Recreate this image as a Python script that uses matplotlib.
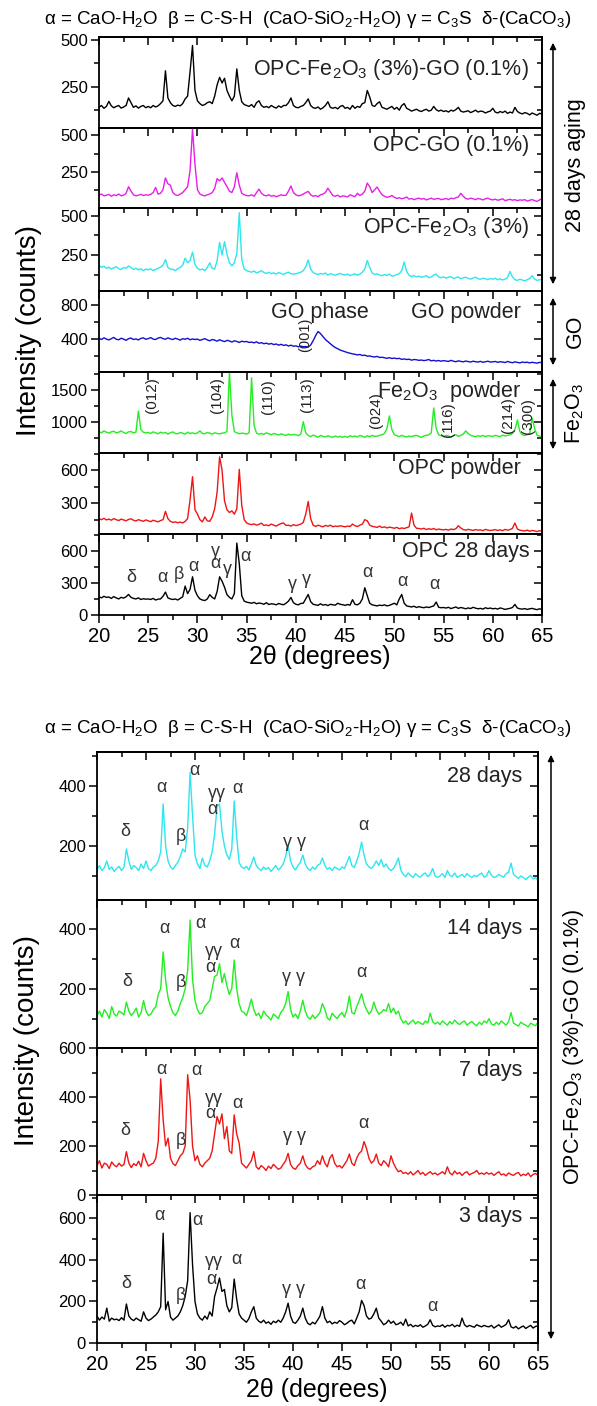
import numpy as np
import matplotlib
matplotlib.use("Agg")
import matplotlib.pyplot as plt
from matplotlib.patches import FancyArrowPatch
from matplotlib.ticker import MultipleLocator

plt.rcParams["font.family"] = ["Liberation Sans", "DejaVu Sans"]
plt.rcParams["mathtext.fontset"] = "custom"
plt.rcParams["mathtext.rm"] = "Liberation Sans"
plt.rcParams["mathtext.it"] = "Liberation Sans:italic"
plt.rcParams["axes.linewidth"] = 1.3

W, H = 597, 1406

# step scan, 20-65 deg 2theta, 0.25 deg per point
two_theta = np.arange(20.0, 65.001, 0.25)

# ---- upper figure: 28 day samples and raw powders ----
opc_fe_go_28d = [
    140, 150, 135, 145, 172, 148, 138, 145, 150, 136, 142, 150, 190, 165, 140, 148, 136, 145, 150, 138,
    145, 138, 150, 142, 148, 160, 175, 335, 190, 165, 150, 145, 152, 148, 160, 185, 200, 330, 470, 230,
    175, 160, 150, 155, 165, 170, 160, 200, 260, 300, 270, 295, 230, 200, 175, 200, 345, 230, 170, 155,
    150, 145, 155, 140, 165, 175, 150, 140, 145, 138, 150, 142, 136, 148, 140, 150, 150, 165, 190, 150,
    140, 138, 145, 150, 165, 185, 150, 138, 135, 142, 130, 138, 150, 170, 140, 135, 140, 132, 145, 150,
    135, 140, 130, 150, 135, 145, 140, 160, 165, 230, 195, 150, 145, 160, 170, 140, 135, 130, 138, 145,
    130, 140, 125, 150, 160, 135, 128, 120, 125, 130, 122, 118, 125, 130, 120, 125, 145, 128, 120, 125,
    118, 122, 115, 125, 120, 128, 140, 120, 115, 118, 122, 112, 118, 125, 115, 120, 118, 110, 116, 120,
    135, 115, 110, 118, 112, 120, 108, 115, 110, 140, 118, 110, 105, 112, 108, 100, 110, 104, 98, 108,
    105,
]
opc_go = [
    95, 100, 88, 92, 98, 85, 95, 90, 100, 88, 92, 105, 150, 120, 95, 88, 92, 98, 90, 95,
    92, 98, 110, 145, 100, 105, 130, 210, 170, 160, 110, 95, 90, 100, 110, 130, 150, 260, 545, 300,
    130, 100, 92, 88, 95, 100, 110, 140, 205, 190, 210, 180, 150, 120, 110, 150, 245, 160, 105, 95,
    90, 88, 95, 85, 110, 134, 105, 92, 88, 95, 85, 90, 82, 88, 95, 90, 92, 120, 155, 110,
    95, 88, 92, 100, 110, 118, 95, 85, 90, 82, 95, 100, 110, 140, 115, 90, 85, 92, 80, 88,
    85, 80, 95, 88, 82, 105, 90, 100, 120, 175, 150, 110, 130, 148, 120, 95, 85, 78, 82, 90,
    78, 70, 75, 68, 72, 80, 65, 70, 62, 68, 72, 65, 70, 60, 66, 72, 64, 68, 70, 62,
    65, 70, 62, 72, 68, 75, 80, 105, 85, 70, 65, 72, 68, 62, 70, 66, 60, 68, 72, 64,
    60, 65, 58, 62, 68, 55, 60, 64, 58, 62, 55, 60, 58, 62, 52, 58, 62, 55, 50, 60,
    70,
]
opc_fe = [
    185, 170, 178, 165, 172, 160, 168, 175, 162, 158, 170, 165, 180, 170, 158, 165, 155, 162, 150, 160,
    155, 162, 150, 158, 165, 172, 185, 220, 170, 160, 158, 150, 162, 170, 185, 230, 200, 215, 268, 190,
    165, 155, 160, 150, 170, 200, 165, 160, 215, 330, 250, 335, 255, 200, 180, 200, 260, 520, 220, 160,
    150, 145, 140, 148, 135, 142, 150, 138, 132, 140, 130, 136, 128, 138, 132, 125, 135, 140, 130, 128,
    130, 135, 140, 150, 175, 218, 160, 138, 130, 125, 132, 128, 135, 122, 130, 126, 120, 128, 132, 125,
    122, 128, 118, 125, 130, 120, 128, 140, 160, 215, 170, 135, 125, 130, 122, 118, 125, 120, 128, 115,
    118, 125, 130, 150, 205, 145, 120, 112, 118, 110, 115, 108, 112, 118, 105, 110, 122, 128, 110, 105,
    110, 102, 108, 112, 100, 105, 110, 98, 104, 108, 100, 96, 102, 108, 98, 95, 102, 98, 92, 100,
    95, 102, 92, 98, 90, 96, 105, 145, 110, 92, 88, 95, 90, 85, 92, 100, 118, 95, 88, 92,
    90,
]
go_powder = [
    410, 395, 415, 400, 390, 405, 420, 398, 392, 410, 400, 385, 405, 412, 395, 402, 390, 408, 415, 398,
    405, 418, 400, 395, 412, 420, 405, 398, 415, 402, 395, 410, 400, 388, 405, 398, 410, 392, 402, 395,
    400, 385, 395, 405, 390, 380, 395, 388, 375, 392, 380, 370, 385, 378, 365, 380, 372, 360, 375, 368,
    372, 360, 365, 355, 368, 350, 358, 345, 352, 340, 348, 335, 342, 328, 338, 325, 332, 318, 328, 315,
    320, 308, 318, 310, 312, 305, 330, 380, 440, 490, 465, 430, 395, 370, 345, 320, 300, 285, 270, 260,
    250, 240, 232, 225, 220, 212, 218, 205, 210, 198, 200, 192, 188, 195, 182, 185, 178, 172, 180, 170,
    175, 168, 172, 160, 165, 158, 162, 150, 158, 155, 148, 152, 145, 150, 158, 142, 148, 140, 146, 138,
    145, 140, 135, 148, 138, 132, 142, 136, 130, 140, 134, 128, 138, 132, 128, 136, 125, 132, 138, 128,
    130, 135, 125, 132, 128, 122, 135, 126, 120, 130, 124, 118, 128, 122, 126, 118, 125, 120, 115, 124,
    120,
]
fe2o3_powder = [
    850, 830, 860, 840, 825, 845, 855, 830, 840, 860, 835, 820, 845, 850, 830, 840, 1170, 880, 840, 830,
    835, 820, 845, 830, 815, 840, 825, 835, 810, 830, 845, 820, 815, 835, 825, 810, 840, 820, 830, 815,
    830, 860, 820, 815, 835, 825, 810, 830, 820, 815, 825, 830, 850, 1780, 1100, 850, 830, 815, 825, 820,
    810, 830, 1690, 950, 825, 810, 820, 805, 830, 815, 800, 820, 810, 795, 815, 800, 790, 810, 795, 805,
    800, 785, 810, 1005, 830, 790, 770, 795, 780, 760, 790, 775, 765, 785, 770, 760, 780, 765, 775, 760,
    775, 760, 785, 770, 780, 765, 790, 775, 760, 785, 770, 790, 775, 780, 790, 800, 820, 900, 1094, 880,
    800, 785, 770, 790, 775, 765, 780, 770, 785, 790, 775, 760, 780, 790, 800, 830, 1218, 900, 800, 785,
    770, 790, 780, 765, 785, 800, 775, 790, 810, 860, 820, 790, 780, 770, 785, 775, 790, 770, 785, 780,
    775, 790, 780, 770, 795, 780, 790, 800, 820, 880, 1031, 850, 800, 790, 800, 820, 1062, 900, 790, 780,
    775,
]
opc_powder = [
    158, 150, 162, 148, 155, 145, 160, 150, 142, 155, 148, 140, 152, 158, 145, 138, 150, 142, 135, 148,
    140, 132, 145, 138, 130, 142, 150, 225, 160, 135, 125, 130, 122, 128, 120, 135, 160, 330, 540, 240,
    200, 150, 130, 175, 140, 135, 175, 250, 400, 720, 600, 320, 240, 215, 230, 200, 250, 606, 280, 150,
    120, 110, 105, 112, 100, 108, 118, 98, 102, 95, 110, 100, 92, 105, 115, 120, 98, 100, 92, 105,
    96, 102, 110, 125, 200, 315, 160, 100, 88, 100, 92, 85, 98, 90, 100, 86, 92, 88, 95, 90,
    85, 92, 88, 110, 95, 88, 100, 110, 150, 140, 100, 90, 85, 80, 92, 78, 85, 75, 82, 78,
    72, 80, 68, 75, 70, 78, 85, 210, 100, 72, 70, 65, 72, 60, 68, 62, 70, 58, 65, 60,
    58, 62, 55, 65, 60, 68, 95, 75, 60, 55, 62, 58, 52, 60, 55, 58, 50, 62, 55, 52,
    55, 60, 52, 58, 50, 62, 55, 60, 72, 120, 65, 55, 50, 48, 55, 45, 52, 48, 42, 50,
    45,
]
opc_28d = [
    170, 160, 175, 165, 168, 155, 172, 160, 150, 165, 158, 170, 192, 165, 155, 150, 160, 145, 152, 148,
    150, 145, 155, 140, 148, 150, 175, 214, 160, 150, 145, 150, 140, 155, 170, 270, 200, 240, 357, 230,
    180, 150, 140, 135, 150, 190, 165, 150, 220, 357, 316, 260, 190, 165, 150, 200, 672, 480, 180, 130,
    120, 115, 110, 118, 105, 112, 108, 100, 115, 98, 105, 102, 95, 108, 100, 96, 110, 130, 164, 115,
    100, 95, 108, 110, 150, 192, 125, 100, 95, 90, 105, 92, 98, 88, 100, 95, 92, 110, 100, 96,
    90, 98, 92, 143, 100, 95, 110, 150, 255, 180, 110, 95, 90, 85, 92, 88, 95, 85, 90, 100,
    110, 95, 150, 192, 110, 85, 80, 75, 82, 70, 78, 72, 68, 75, 70, 78, 85, 121, 72, 68,
    70, 65, 72, 60, 68, 75, 62, 70, 65, 58, 66, 60, 72, 64, 58, 62, 55, 68, 60, 65,
    58, 62, 55, 66, 60, 52, 58, 62, 70, 99, 65, 58, 55, 60, 52, 58, 62, 55, 50, 58,
    52,
]

# ---- lower figure: OPC-Fe2O3(3%)-GO(0.1%) at different ages ----
age_28d = [
    120, 135, 118, 128, 150, 122, 130, 115, 125, 132, 118, 128, 190, 150, 122, 135, 128, 118, 140, 125,
    150, 125, 118, 130, 135, 150, 180, 340, 200, 150, 130, 122, 135, 145, 165, 190, 180, 260, 445, 300,
    170, 140, 125, 160, 135, 130, 150, 180, 240, 330, 340, 250, 200, 170, 155, 190, 350, 230, 145, 130,
    125, 132, 120, 140, 163, 135, 125, 118, 130, 122, 128, 115, 125, 135, 120, 128, 140, 165, 202, 150,
    130, 120, 135, 145, 170, 140, 125, 118, 130, 122, 135, 140, 160, 135, 122, 128, 118, 130, 125, 120,
    130, 125, 145, 165, 135, 128, 150, 175, 213, 170, 140, 130, 125, 135, 150, 135, 155, 130, 140, 125,
    118, 125, 140, 160, 120, 105, 98, 110, 102, 95, 108, 100, 96, 105, 110, 98, 105, 125, 100, 95,
    100, 108, 95, 118, 102, 98, 110, 95, 100, 105, 96, 108, 100, 95, 102, 98, 105, 110, 96, 100,
    118, 102, 95, 98, 105, 100, 96, 108, 112, 143, 105, 98, 92, 100, 95, 88, 96, 102, 90, 95,
    85,
]
age_14d = [
    110, 125, 105, 130, 118, 100, 140, 115, 108, 125, 120, 112, 155, 125, 110, 120, 135, 105, 120, 160,
    125, 110, 115, 130, 140, 180, 200, 322, 228, 170, 140, 120, 110, 125, 150, 170, 200, 260, 428, 230,
    160, 130, 115, 120, 140, 150, 160, 200, 240, 245, 283, 220, 250, 210, 180, 200, 295, 200, 150, 125,
    120, 110, 135, 165, 130, 110, 118, 100, 125, 112, 105, 95, 115, 108, 100, 120, 130, 150, 190, 130,
    105, 115, 100, 125, 161, 125, 105, 98, 112, 100, 110, 120, 150, 130, 102, 95, 118, 108, 100, 112,
    120, 105, 130, 175, 120, 115, 140, 160, 183, 150, 130, 115, 125, 155, 130, 115, 120, 130, 125, 150,
    120, 135, 115, 125, 100, 85, 92, 80, 88, 95, 82, 90, 85, 80, 92, 85, 118, 90, 82, 88,
    80, 92, 85, 78, 90, 82, 95, 86, 80, 88, 92, 78, 85, 90, 82, 76, 88, 80, 92, 85,
    100, 82, 78, 88, 80, 92, 85, 78, 90, 120, 85, 80, 75, 88, 82, 78, 72, 85, 80, 76,
    88,
]
age_7d = [
    120, 140, 110, 130, 125, 108, 135, 122, 115, 130, 118, 125, 177, 130, 112, 128, 120, 138, 115, 170,
    140, 118, 125, 130, 150, 218, 474, 307, 200, 232, 150, 128, 120, 140, 160, 170, 200, 491, 388, 200,
    140, 160, 125, 115, 130, 140, 150, 180, 250, 320, 290, 331, 230, 279, 180, 170, 327, 250, 212, 130,
    120, 110, 125, 140, 177, 115, 105, 120, 112, 100, 118, 108, 125, 115, 105, 110, 125, 140, 170, 125,
    110, 105, 120, 130, 160, 125, 110, 105, 115, 120, 140, 125, 160, 130, 115, 150, 165, 130, 115, 120,
    110, 125, 140, 167, 130, 120, 150, 170, 180, 218, 190, 150, 130, 140, 167, 130, 120, 140, 130, 115,
    160, 130, 110, 95, 100, 88, 92, 85, 95, 82, 90, 100, 85, 92, 80, 88, 95, 85, 90, 82,
    88, 95, 85, 115, 90, 82, 98, 86, 92, 80, 90, 95, 82, 88, 92, 100, 85, 90, 84, 92,
    85, 90, 80, 88, 95, 82, 86, 78, 90, 84, 80, 88, 92, 78, 85, 80, 90, 75, 84, 88,
    80,
]
age_3d = [
    130, 110, 125, 115, 168, 105, 120, 112, 115, 108, 122, 110, 188, 130, 115, 108, 120, 112, 105, 150,
    120, 108, 115, 125, 135, 150, 175, 529, 160, 200, 125, 110, 120, 130, 150, 180, 224, 300, 628, 377,
    200, 140, 120, 110, 130, 115, 150, 130, 224, 265, 313, 248, 258, 180, 150, 170, 308, 212, 140, 120,
    110, 100, 118, 150, 175, 120, 105, 98, 110, 95, 102, 90, 105, 98, 110, 100, 120, 150, 192, 130,
    100, 95, 110, 130, 168, 120, 95, 88, 100, 92, 110, 130, 175, 120, 98, 105, 92, 100, 95, 108,
    100, 88, 95, 105, 110, 92, 120, 150, 205, 180, 130, 115, 120, 140, 168, 120, 105, 88, 95, 110,
    95, 105, 88, 92, 100, 85, 115, 82, 90, 78, 85, 80, 88, 76, 82, 90, 112, 85, 78, 82,
    80, 88, 76, 85, 82, 90, 78, 86, 80, 120, 88, 78, 85, 80, 76, 88, 82, 78, 85, 80,
    78, 85, 72, 80, 88, 76, 82, 90, 112, 78, 72, 80, 68, 76, 82, 70, 78, 85, 72, 80,
    82,
]

# phase labels: (2theta, intensity, symbol)
opc_28d_phases = [
    (23.3, 347, "δ"), (26.4, 347, "α"), (28.1, 378, "β"), (29.6, 455, "α"),
    (31.8, 590, "γ"), (31.8, 480, "α"), (33.0, 425, "γ"), (34.9, 549, "α"),
    (39.6, 285, "γ"), (41.1, 331, "γ"), (47.3, 393, "α"), (50.8, 316, "α"),
    (54.1, 285, "α"),
]
age_28d_phases = [
    (22.9, 247, "δ"), (26.6, 395, "α"), (29.9, 450, "α"), (32.2, 375, "γγ"),
    (31.8, 322, "α"), (34.3, 390, "α"), (28.6, 230, "β"), (40.2, 213, "γ γ"),
    (47.2, 268, "α"),
]
age_14d_phases = [
    (23.1, 224, "δ"), (26.9, 400, "α"), (30.6, 418, "α"), (31.9, 322, "γγ"),
    (31.6, 270, "α"), (34.0, 350, "α"), (28.6, 220, "β"), (40.0, 237, "γ γ"),
    (47.0, 252, "α"),
]
age_7d_phases = [
    (22.9, 262, "δ"), (26.6, 511, "α"), (30.1, 507, "α"), (31.9, 392, "γγ"),
    (31.6, 331, "α"), (34.3, 372, "α"), (28.6, 222, "β"), (40.2, 237, "γ γ"),
    (47.2, 291, "α"),
]
age_3d_phases = [
    (23.0, 289, "δ"), (26.4, 612, "α"), (30.2, 590, "α"), (31.9, 392, "γγ"),
    (31.7, 305, "α"), (34.2, 400, "α"), (28.6, 228, "β"), (40.0, 260, "γ γ"),
    (46.9, 284, "α"), (54.2, 176, "α"),
]

# Fe2O3 reflections: (2theta, intensity, hkl)
fe2o3_hkl = [
    (25.4, 1421, "(012)"), (32.0, 1421, "(104)"), (37.2, 1395, "(110)"),
    (41.1, 1421, "(113)"), (48.1, 1187, "(024)"), (55.5, 1031, "(116)"),
    (61.5, 1105, "(214)"), (63.6, 1085, "(300)"),
]

legend_line = ("α = CaO-H$_\\mathregular{2}$O  β = C-S-H  (CaO-SiO$_\\mathregular{2}$-H$_\\mathregular{2}$O)"
               " γ = C$_\\mathregular{3}$S  δ-(CaCO$_\\mathregular{3}$)")

fig = plt.figure(figsize=(W / 100, H / 100), dpi=100)


def px_axes(left, top, right, bottom):
    return fig.add_axes([left / W, 1 - bottom / H, (right - left) / W, (bottom - top) / H])


def fxy(x, y):
    return x / W, 1 - y / H


def style(ax, ylim, major, minor, last):
    ax.set_xlim(20, 65)
    ax.set_ylim(*ylim)
    ax.xaxis.set_major_locator(MultipleLocator(5))
    ax.xaxis.set_minor_locator(MultipleLocator(2.5))
    ax.yaxis.set_major_locator(MultipleLocator(major))
    ax.yaxis.set_minor_locator(MultipleLocator(minor))
    ax.tick_params(axis="y", which="both", direction="out", left=True, right=False,
                   labelsize=12, pad=2, width=1.1)
    ax.tick_params(axis="x", which="both", direction="out", top=False, bottom=last,
                   labelbottom=last, labelsize=14.5, pad=3, width=1.1)
    ax.tick_params(which="major", length=6)
    ax.tick_params(which="minor", length=3.5)

    top = ax.secondary_xaxis("top")
    top.xaxis.set_major_locator(MultipleLocator(5))
    top.xaxis.set_minor_locator(MultipleLocator(2.5))
    top.tick_params(which="both", direction="in", labeltop=False, width=1.1)
    top.tick_params(which="major", length=6)
    top.tick_params(which="minor", length=3.5)

    right = ax.secondary_yaxis("right")
    right.yaxis.set_major_locator(MultipleLocator(major))
    right.yaxis.set_minor_locator(MultipleLocator(minor))
    right.tick_params(which="both", direction="in", labelright=False, width=1.1)
    right.tick_params(which="major", length=6)
    right.tick_params(which="minor", length=3.5)


def name(ax, x, y, text, ha="right"):
    ax.text(x, y, text, ha=ha, va="center", fontsize=15.5, color="#222222")


def phases(ax, items):
    for x, y, s in items:
        ax.text(x, y, s, ha="center", va="center", fontsize=13, color="#333333")


def side_arrow(y0, y1, x=553):
    fig.add_artist(FancyArrowPatch(fxy(x, y0), fxy(x, y1), transform=fig.transFigure,
                                   arrowstyle="<|-|>", mutation_scale=9, lw=1.1, color="black"))


# upper stack
upper_edges = [37, 128, 208, 291, 372, 453, 534, 615]
upper_series = [
    (opc_fe_go_28d, "black", (30, 515), 250, 125),
    (opc_go, "#e81ee8", (5, 550), 250, 125),
    (opc_fe, "#2ee6ee", (20, 550), 250, 125),
    (go_powder, "#1010d0", (10, 970), 400, 200),
    (fe2o3_powder, "#22ee22", (515, 1780), 500, 250),
    (opc_powder, "#ee1515", (20, 755), 300, 150),
    (opc_28d, "black", (0, 757), 300, 150),
]
upper_axes = []
for i, (vals, col, ylim, major, minor) in enumerate(upper_series):
    ax = px_axes(99, upper_edges[i], 542, upper_edges[i + 1])
    ax.plot(two_theta, vals, color=col, lw=1.0)
    style(ax, ylim, major, minor, last=(i == len(upper_series) - 1))
    upper_axes.append(ax)

name(upper_axes[0], 63.7, 340, "OPC-Fe$_\\mathregular{2}$O$_\\mathregular{3}$ (3%)-GO (0.1%)")
name(upper_axes[1], 63.7, 434, "OPC-GO (0.1%)")
name(upper_axes[2], 63.7, 423, "OPC-Fe$_\\mathregular{2}$O$_\\mathregular{3}$ (3%)")
name(upper_axes[3], 62.9, 718, "GO powder")
name(upper_axes[3], 42.4, 718, "GO phase", ha="center")
upper_axes[3].text(40.9, 447, "(001)", rotation=90, ha="center", va="center", fontsize=10.5, color="#222222")
name(upper_axes[4], 62.9, 1468, "Fe$_\\mathregular{2}$O$_\\mathregular{3}$  powder")
for x, y, s in fe2o3_hkl:
    upper_axes[4].text(x, y, s, rotation=90, ha="center", va="center", fontsize=11, color="#222222")
name(upper_axes[5], 62.9, 615, "OPC powder")
name(upper_axes[6], 63.7, 595, "OPC 28 days")
phases(upper_axes[6], opc_28d_phases)

fig.text(*fxy(308, 20), legend_line, ha="center", va="center", fontsize=13.5)
fig.text(*fxy(29, 330), "Intensity (counts)", rotation=90, ha="center", va="center", fontsize=20)
fig.text(*fxy(320, 657), "2θ (degrees)", ha="center", va="center", fontsize=18)

side_arrow(40, 287)
side_arrow(295, 368)
side_arrow(376, 452)
fig.text(*fxy(575, 165), "28 days aging", rotation=90, ha="center", va="center", fontsize=15.5)
fig.text(*fxy(575, 331), "GO", rotation=90, ha="center", va="center", fontsize=15.5)
fig.text(*fxy(575, 414), "Fe$_\\mathregular{2}$O$_\\mathregular{3}$", rotation=90, ha="center", va="center",
         fontsize=15.5)

# lower stack
lower_edges = [752, 900, 1048, 1195, 1343]
lower_series = [
    (age_28d, "#2ee6ee", (20, 513), age_28d_phases, "28 days", 430),
    (age_14d, "#22ee22", (2, 495), age_14d_phases, "14 days", 400),
    (age_7d, "#ee1515", (0, 600), age_7d_phases, "7 days", 507),
    (age_3d, "black", (0, 713), age_3d_phases, "3 days", 609),
]
for i, (vals, col, ylim, labels, age, age_y) in enumerate(lower_series):
    ax = px_axes(97, lower_edges[i], 538, lower_edges[i + 1])
    ax.plot(two_theta, vals, color=col, lw=1.0)
    style(ax, ylim, 200, 100, last=(i == len(lower_series) - 1))
    phases(ax, labels)
    name(ax, 63.4, age_y, age)

fig.text(*fxy(308, 728), legend_line, ha="center", va="center", fontsize=13.5)
fig.text(*fxy(27, 1040), "Intensity (counts)", rotation=90, ha="center", va="center", fontsize=20)
fig.text(*fxy(317, 1390), "2θ (degrees)", ha="center", va="center", fontsize=18)

side_arrow(752, 1342, x=551)
fig.text(*fxy(573, 1047), "OPC-Fe$_\\mathregular{2}$O$_\\mathregular{3}$ (3%)-GO (0.1%)", rotation=90,
         ha="center", va="center", fontsize=15.5)

fig.savefig("out.png", dpi=100)
